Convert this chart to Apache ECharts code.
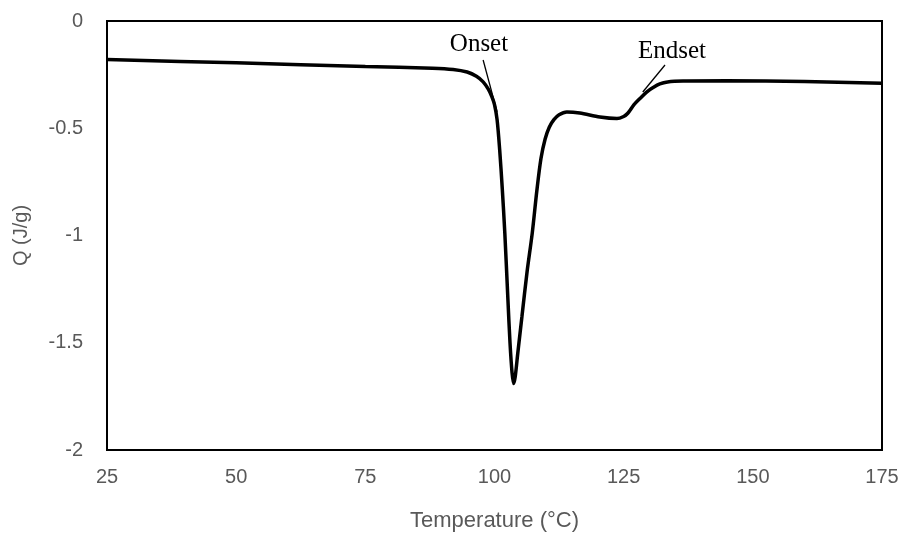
<!DOCTYPE html>
<html>
<head>
<meta charset="utf-8">
<script src="https://cdn.jsdelivr.net/npm/echarts@6/dist/echarts.min.js"></script>
<style>
html,body{margin:0;padding:0;background:#fff;}
#chart{width:903px;height:534px;}
</style>
</head>
<body>
<div id="chart"></div>
<script>
// Temperature (°C)
const temps = [25, 50, 75, 88, 92, 94.7, 96.5, 97.8, 98.8, 99.5, 100, 100.5, 101, 101.5, 102, 102.6, 103, 103.4, 103.7, 104, 104.5, 105.3, 106.3, 107.3, 108.2, 109, 109.8, 110.6, 111.5, 112.5, 114, 116.5, 120.4, 123.7, 125, 125.8, 127, 128.2, 129.5, 130.7, 132, 133.5, 136.5, 145, 160, 175];
// Q (J/g)
const qValues = [-0.180, -0.195, -0.212, -0.220, -0.226, -0.238, -0.258, -0.284, -0.318, -0.354, -0.39, -0.46, -0.60, -0.78, -0.99, -1.30, -1.50, -1.64, -1.69, -1.66, -1.55, -1.38, -1.17, -0.99, -0.79, -0.64, -0.55, -0.495, -0.46, -0.437, -0.424, -0.429, -0.448, -0.455, -0.445, -0.43, -0.39, -0.36, -0.33, -0.31, -0.293, -0.284, -0.28, -0.279, -0.282, -0.29];
const xTicks = [25, 50, 75, 100, 125, 150, 175];
const yTicks = [0, -0.5, -1, -1.5, -2];
const annotationTexts = ['Onset', 'Endset'];
const annotationTextAt = [[97.0, -0.107], [134.35, -0.140]];
const leaderFrom = [[97.8, -0.182], [133.0, -0.205]];
const leaderTo = [[100.5, -0.424], [128.7, -0.331]];

const chart = echarts.init(document.getElementById('chart'), null, {renderer: 'canvas'});
const tickFont = {color: '#595959', fontSize: 20, fontFamily: 'Liberation Sans, Arial, sans-serif'};
chart.setOption({
  animation: false,
  backgroundColor: '#ffffff',
  grid: {left: 107, right: 21, top: 21, bottom: 84, show: true, borderColor: '#000', borderWidth: 2, containLabel: false, outerBoundsMode: 'none'},
  xAxis: {
    type: 'value', min: xTicks[0], max: xTicks[xTicks.length - 1], interval: 25,
    name: 'Temperature (°C)', nameLocation: 'middle', nameGap: 60,
    nameTextStyle: {color: '#595959', fontSize: 22, fontFamily: 'Liberation Sans, Arial, sans-serif'},
    axisLine: {show: true, onZero: false, lineStyle: {color: '#000', width: 2}},
    axisTick: {show: false}, splitLine: {show: false},
    axisLabel: Object.assign({margin: 17}, tickFont)
  },
  yAxis: {
    type: 'value', min: yTicks[yTicks.length - 1], max: yTicks[0], interval: 0.5,
    name: 'Q (J/g)', nameLocation: 'middle', nameGap: 76, nameRotate: 90,
    nameTextStyle: {color: '#595959', fontSize: 20, fontFamily: 'Liberation Sans, Arial, sans-serif'},
    axisLine: {show: true, lineStyle: {color: '#000', width: 2}},
    axisTick: {show: false}, splitLine: {show: false},
    axisLabel: Object.assign({margin: 24}, tickFont)
  },
  series: [{
    type: 'line',
    data: temps.map((t, i) => [t, qValues[i]]),
    showSymbol: false, symbol: 'none', smooth: 0.3,
    lineStyle: {color: '#000', width: 3.5},
    markLine: {
      silent: true, symbol: 'none', label: {show: false},
      lineStyle: {color: '#000', width: 1.3, type: 'solid'},
      data: leaderFrom.map((f, i) => [{coord: f}, {coord: leaderTo[i]}])
    },
    markPoint: {
      silent: true, symbol: 'circle', symbolSize: 0,
      label: {show: true, position: 'inside', color: '#000', fontSize: 25, fontFamily: 'Liberation Serif, Times New Roman, serif',
        formatter: p => p.name},
      data: annotationTexts.map((n, i) => ({name: n, coord: annotationTextAt[i]}))
    }
  }]
});
</script>
</body>
</html>
